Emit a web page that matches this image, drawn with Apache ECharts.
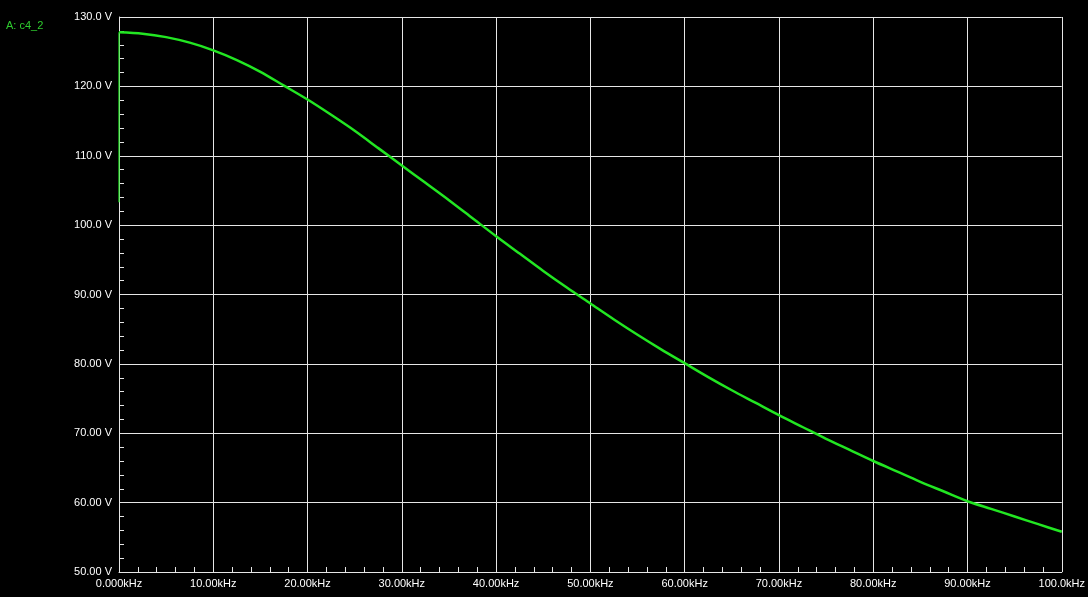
<!DOCTYPE html>
<html>
<head>
<meta charset="utf-8">
<script src="https://cdn.jsdelivr.net/npm/echarts@6/dist/echarts.min.js"></script>
<style>
html,body{margin:0;padding:0;background:#000;}
#chart{width:1088px;height:597px;}
</style>
</head>
<body>
<div id="chart"></div>
<script>
// Frequency (kHz) and voltage (V)
const freqKHz = [0, 2.5, 5, 7.5, 10, 12.5, 15, 17.5, 20, 22.5, 25, 27.5, 30, 32.5, 35, 37.5, 40,
  42.5, 45, 47.5, 50, 52.5, 55, 57.5, 60, 62.5, 65, 67.5, 70, 72.5, 75, 77.5, 80,
  82.5, 85, 87.5, 90, 92.5, 95, 97.5, 100];
const voltage = [127.8, 127.6, 127.1, 126.3, 125.2, 123.8, 122.1, 120.1, 118.1, 115.9, 113.6, 111.1, 108.6,
  106.1, 103.6, 101.0, 98.4, 95.9, 93.4, 91.0, 88.7, 86.4, 84.2, 82.1, 80.1,
  78.1, 76.2, 74.4, 72.6, 70.9, 69.2, 67.6, 66.0, 64.5, 63.0, 61.6, 60.2,
  59.1, 58.0, 56.9, 55.8];
// Initial vertical step at 0 kHz
const stepFreq = [0, 0];
const stepVolt = [103.3, 127.8];

const xTickValues = [0, 10, 20, 30, 40, 50, 60, 70, 80, 90, 100];
const xTickLabels = ['0.000kHz', '10.00kHz', '20.00kHz', '30.00kHz', '40.00kHz', '50.00kHz',
  '60.00kHz', '70.00kHz', '80.00kHz', '90.00kHz', '100.0kHz'];
const yTickValues = [50, 60, 70, 80, 90, 100, 110, 120, 130];
const yTickLabels = ['50.00 V', '60.00 V', '70.00 V', '80.00 V', '90.00 V', '100.0 V', '110.0 V', '120.0 V', '130.0 V'];
const traceName = 'A: c4_2';

const curveColor = '#22e622';
const gridColor = '#e6e6e6';
const font = 'Arial, "Liberation Sans", sans-serif';

const chart = echarts.init(document.getElementById('chart'));
chart.setOption({
  backgroundColor: '#000',
  animation: false,
  title: {
    text: traceName, left: 1, top: 15,
    textStyle: {color: '#2ecc2e', fontSize: 11, fontWeight: 'normal', fontFamily: font}
  },
  grid: {left: 119, right: 25, top: 17, bottom: 25, containLabel: false},
  xAxis: {
    type: 'value', min: 0, max: 100, interval: 10,
    axisLine: {show: true, lineStyle: {color: gridColor, width: 1}},
    axisTick: {show: true, inside: true, length: 5, lineStyle: {color: gridColor}},
    minorTick: {show: true, splitNumber: 5, length: 5, lineStyle: {color: gridColor}},
    splitLine: {show: true, lineStyle: {color: gridColor, width: 1}},
    axisLabel: {
      color: '#fff', fontSize: 11, fontFamily: font, margin: 6,
      formatter: v => { const i = xTickValues.indexOf(v); return i >= 0 ? xTickLabels[i] : ''; }
    }
  },
  yAxis: {
    type: 'value', min: 50, max: 130, interval: 10,
    axisLine: {show: true, lineStyle: {color: gridColor, width: 1}},
    axisTick: {show: true, inside: true, length: 5, lineStyle: {color: gridColor}},
    minorTick: {show: true, splitNumber: 5, length: 5, lineStyle: {color: gridColor}},
    splitLine: {show: true, lineStyle: {color: gridColor, width: 1}},
    axisLabel: {
      color: '#fff', fontSize: 11, fontFamily: font, margin: 7,
      formatter: v => { const i = yTickValues.indexOf(v); return i >= 0 ? yTickLabels[i] : ''; }
    }
  },
  series: [
    {
      type: 'line', name: traceName, showSymbol: false, smooth: 0.3,
      data: freqKHz.map((f, i) => [f, voltage[i]]),
      lineStyle: {color: curveColor, width: 2.5}, z: 3
    },
    {
      type: 'line', showSymbol: false, smooth: false,
      data: stepFreq.map((f, i) => [f, stepVolt[i]]),
      lineStyle: {color: curveColor, width: 1.2}, z: 3
    }
  ]
});
</script>
</body>
</html>
